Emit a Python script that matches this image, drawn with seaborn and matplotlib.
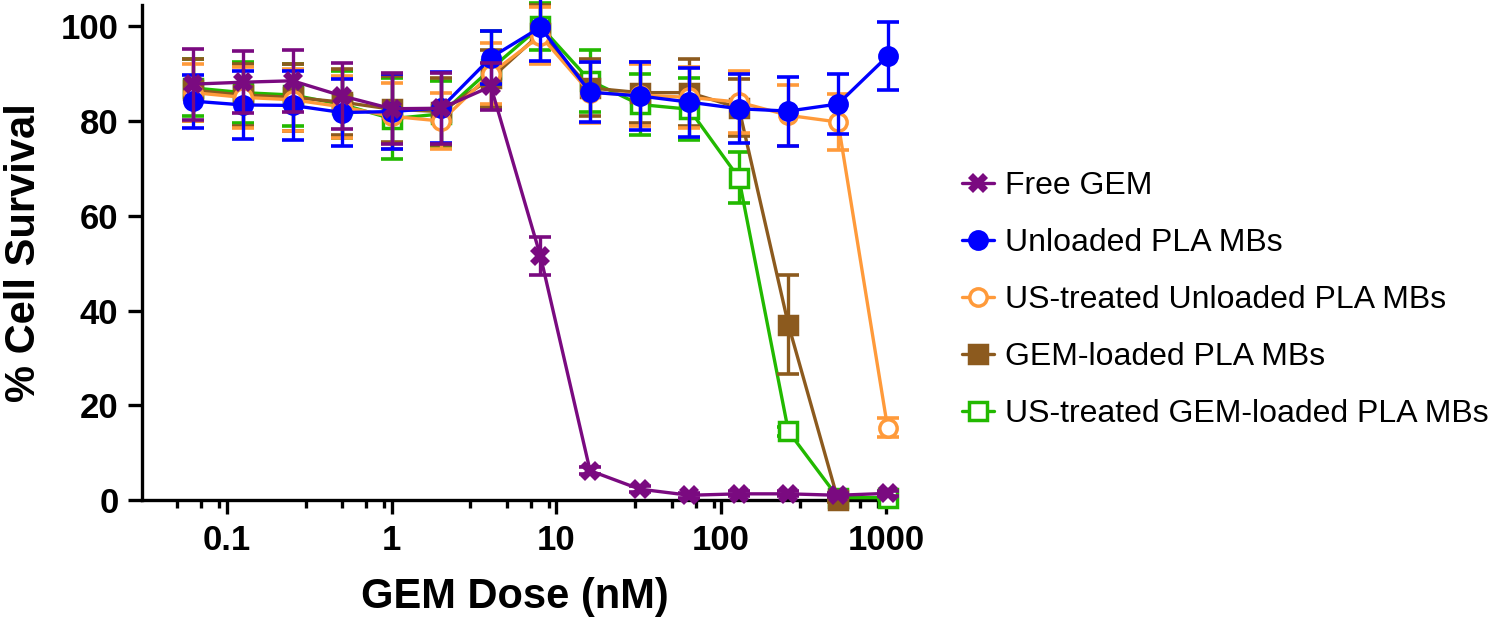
import numpy as np
import pandas as pd
import matplotlib
matplotlib.use("Agg")
import matplotlib.pyplot as plt
from matplotlib.lines import Line2D
from matplotlib.ticker import LogLocator, FixedLocator, NullFormatter
import seaborn as sns

# ── data ──
doses = [0.0625, 0.125, 0.25, 0.5, 1, 2, 4, 8, 16, 32, 64, 128, 256, 512, 1024]

free_gem     = [87.8, 88.2, 88.5, 85.3, 82.6, 82.7, 87.3, 51.5, 6.2, 2.3, 1.0, 1.3, 1.3, 1.0, 1.4]
free_gem_sd  = [7.5, 6.5, 6.5, 7.0, 7.5, 7.5, 5.0, 4.0, 0.8, 0.6, 0.5, 0.5, 0.5, 0.4, 0.5]

unloaded     = [84.2, 83.4, 83.3, 81.8, 82.0, 82.8, 93.4, 99.8, 86.1, 85.3, 84.0, 82.6, 82.1, 83.6, 93.7]
unloaded_sd  = [5.6, 7.2, 7.2, 7.0, 8.0, 7.5, 5.6, 7.2, 6.4, 7.1, 7.3, 7.3, 7.3, 6.3, 7.2]

us_unloaded    = [86.0, 85.0, 84.5, 83.0, 81.0, 80.0, 90.0, 98.0, 86.0, 85.5, 85.0, 84.0, 81.2, 79.8, 15.3]
us_unloaded_sd = [6.0, 6.5, 6.5, 6.5, 7.0, 6.0, 6.5, 6.0, 6.5, 6.5, 6.5, 6.5, 6.5, 6.0, 2.1]

gem_loaded    = [86.5, 85.5, 85.0, 84.0, 82.5, 82.0, 89.0, 98.5, 87.0, 86.0, 86.0, 82.8, 37.0, 0.0, np.nan]
gem_loaded_sd = [6.5, 6.5, 7.0, 7.0, 7.0, 7.0, 6.0, 6.0, 6.0, 6.5, 7.0, 6.0, 10.5, 0.5, np.nan]

us_gem_loaded    = [87.0, 86.0, 85.5, 83.5, 80.5, 81.5, 91.0, 100.0, 88.5, 83.5, 82.5, 68.0, 14.5, 0.5, 0.5]
us_gem_loaded_sd = [6.0, 6.5, 6.5, 7.0, 8.5, 7.0, 8.0, 5.0, 6.5, 6.5, 6.5, 5.4, 1.0, 0.5, 0.3]

labels = ["Free GEM", "Unloaded PLA MBs", "US-treated Unloaded PLA MBs",
          "GEM-loaded PLA MBs", "US-treated GEM-loaded PLA MBs"]

# ── styling ──
sns.set_theme(style="ticks")
plt.rcParams["font.family"] = ["Liberation Sans", "DejaVu Sans"]
plt.rcParams.update({"text.color": "black", "axes.labelcolor": "black",
                     "xtick.color": "black", "ytick.color": "black"})

series = [
    # label, mean, sd, color, marker, filled, marker size, zorder
    (labels[4], us_gem_loaded, us_gem_loaded_sd, "#22b900", "s", False, 12.5, 3),
    (labels[3], gem_loaded, gem_loaded_sd, "#8c5a1e", "s", True, 12.5, 4),
    (labels[2], us_unloaded, us_unloaded_sd, "#ff9a3a", "o", False, 12.5, 5),
    (labels[1], unloaded, unloaded_sd, "#0000ff", "o", True, 12.5, 6),
    (labels[0], free_gem, free_gem_sd, "#7a0a80", "X", True, 15, 7),
]

fig = plt.figure(figsize=(15, 6.2), dpi=100)
ax = fig.add_axes([142 / 1500, 120 / 620, (888 - 142) / 1500, (500 - 5) / 620])

handles = {}
for name, mean, sd, col, mk, filled, ms, z in series:
    df = pd.DataFrame({"dose": doses, "survival": mean, "sd": sd}).dropna()
    ax.errorbar(df["dose"], df["survival"], yerr=df["sd"], fmt="none",
                ecolor=col, elinewidth=2.4, capsize=8, capthick=2.6,
                zorder=z, clip_on=False)
    sns.lineplot(data=df, x="dose", y="survival", ax=ax, estimator=None,
                 color=col, lw=2.4, marker=mk, markersize=ms,
                 markerfacecolor=col if filled else "white",
                 markeredgecolor=col, markeredgewidth=0 if mk == "X" else 2.5,
                 zorder=z + 0.5, clip_on=False)
    handles[name] = Line2D([], [], color=col, lw=2.4, marker=mk, markersize=ms,
                           markerfacecolor=col if filled else "white",
                           markeredgecolor=col,
                           markeredgewidth=0 if mk == "X" else 2.5)

ax.set_xscale("log")
ax.set_xlim(0.0305, 1030)
ax.set_ylim(0, 104.5)

ax.xaxis.set_major_locator(FixedLocator([0.1, 1, 10, 100, 1000]))
ax.set_xticklabels(["0.1", "1", "10", "100", "1000"])
ax.xaxis.set_minor_locator(LogLocator(base=10, subs=(3, 5, 7, 9)))
ax.xaxis.set_minor_formatter(NullFormatter())
ax.set_yticks([0, 20, 40, 60, 80, 100])

ax.set_xlabel("GEM Dose (nM)", fontsize=30, fontweight="bold", labelpad=15)
ax.set_ylabel("% Cell Survival", fontsize=30, fontweight="bold", labelpad=12)

for side in ["top", "right"]:
    ax.spines[side].set_visible(False)
for side in ["left", "bottom"]:
    ax.spines[side].set_linewidth(2.4)
    ax.spines[side].set_color("black")

ax.tick_params(axis="both", which="major", length=10, width=2.4,
               labelsize=25, color="black", pad=7)
ax.tick_params(axis="x", which="minor", length=5.5, width=2.4, color="black")
for lab in ax.get_xticklabels() + ax.get_yticklabels():
    lab.set_fontweight("bold")

ax.legend([handles[l] for l in labels], labels, loc="center left",
          bbox_to_anchor=(962 / 1500, 1 - 300 / 620),
          bbox_transform=fig.transFigure, frameon=False, fontsize=23,
          handlelength=1.0, handletextpad=0.35, labelspacing=0.85,
          borderpad=0, borderaxespad=0)

fig.savefig("out.png", dpi=100)
